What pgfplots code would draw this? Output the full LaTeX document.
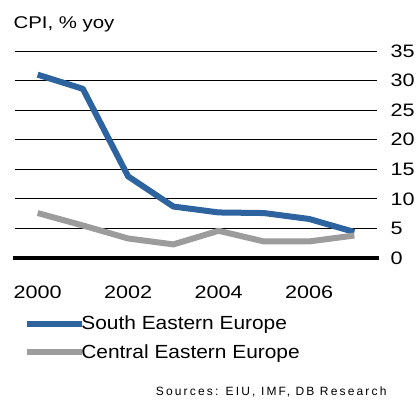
\documentclass[border=0pt]{standalone}
\usepackage{fontspec}
\setmainfont{Liberation Sans}
\newfontfamily\widefont[FakeStretch=1.2]{Liberation Sans}
\newfontfamily\legfont[FakeStretch=1.1]{Liberation Sans}
\usepackage{pgfplots}
\pgfplotsset{compat=1.18}
\definecolor{seeblue}{HTML}{2D64A0}
\definecolor{ceegray}{HTML}{9C9C9C}
\begin{document}
\begin{tikzpicture}[x=1pt,y=1pt]
\useasboundingbox (0,0) rectangle (418,401);
\begin{axis}[
  at={(15pt,143pt)}, anchor=south west,
  scale only axis, width=362pt, height=207pt,
  xmin=1999.5, xmax=2007.5, ymin=0, ymax=35,
  clip=false,
  axis line style={draw=none},
  tick style={draw=none},
  ymajorgrids, grid style={black, line width=0.9pt},
  ytick={5,10,...,35},
  extra y ticks={0}, extra y tick style={grid=none},
  yticklabel pos=right,
  xtick={2000,2002,2004,2006},
  /pgf/number format/assume math mode=true,
  x tick label style={/pgf/number format/1000 sep={}, font=\widefont\fontsize{18}{20}\selectfont, yshift=-24pt},
  y tick label style={font=\widefont\fontsize{18}{20}\selectfont, anchor=west, xshift=10pt},
  legend style={at={(0.017,-0.26)}, anchor=north west, draw=none, fill=none,
    font=\legfont\fontsize{19}{22}\selectfont, row sep=9pt,
    /tikz/every even column/.append style={column sep=0pt}},
  legend cell align=left,
  legend image code/.code={\draw[#1, line width=6pt] (0pt,0pt) -- (55pt,0pt);},
]
\addplot[seeblue, line width=6pt, line join=round] coordinates {
 (2000,31.0) (2001,28.6) (2002,13.8) (2003,8.7) (2004,7.7) (2005,7.6) (2006,6.6) (2007,4.4)};
\addlegendentry{\hspace{-6pt}South Eastern Europe}
\addplot[ceegray, line width=6pt, line join=round] coordinates {
 (2000,7.6) (2001,5.5) (2002,3.3) (2003,2.3) (2004,4.6) (2005,2.8) (2006,2.8) (2007,3.8)};
\addlegendentry{\hspace{-6pt}Central Eastern Europe}
\addplot[black, line width=4.5pt, forget plot] coordinates {(1999.46,0) (2007.55,0)};
\end{axis}
\node[anchor=west, font=\widefont\fontsize{17}{20}\selectfont] at (10,377) {CPI, \% yoy};
\node[anchor=east, font=\addfontfeature{LetterSpace=18}\fontsize{12}{14}\selectfont] at (390,9) {Sources: EIU, IMF, DB Research};
\end{tikzpicture}
\end{document}
